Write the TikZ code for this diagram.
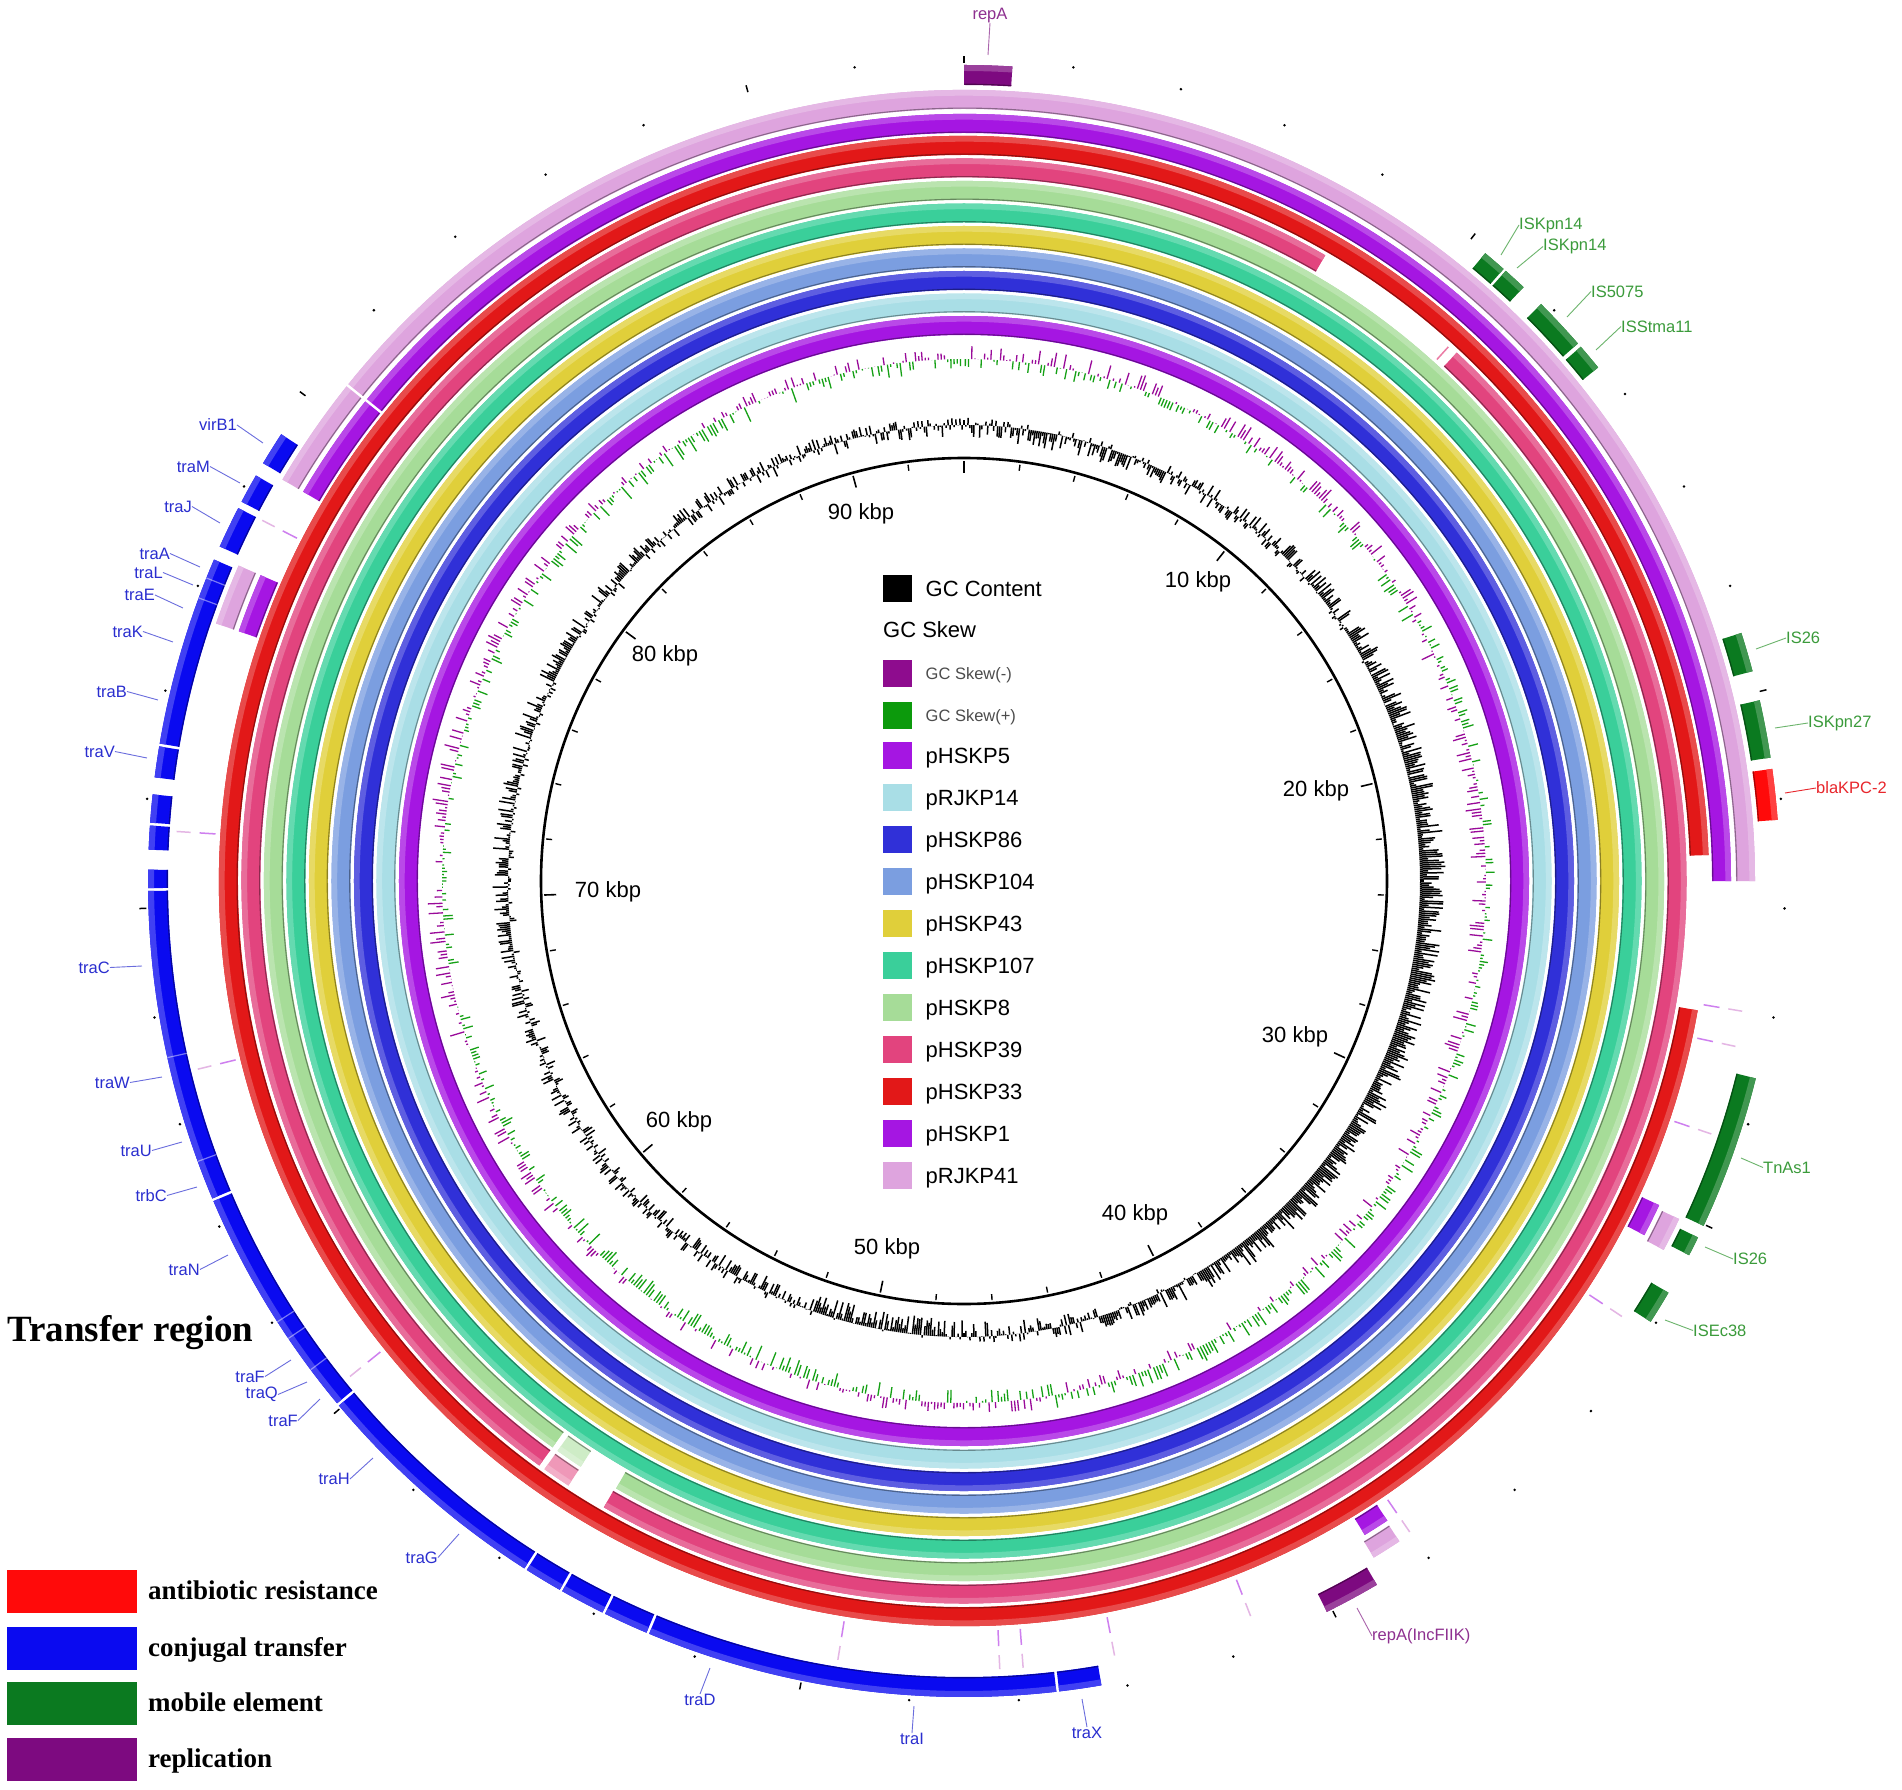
\documentclass[tikz,border=0pt]{standalone}
\usepackage{fontspec}
\setmainfont{Liberation Sans}
\newfontfamily\serifbf{Liberation Serif}
\definecolor{cP5}{HTML}{A516E2}
\definecolor{cR14}{HTML}{A9DEE6}
\definecolor{cP86}{HTML}{3030D8}
\definecolor{cP104}{HTML}{7B9EE0}
\definecolor{cP43}{HTML}{E0CF3A}
\definecolor{cP107}{HTML}{3ACF9A}
\definecolor{cP8}{HTML}{A6DC98}
\definecolor{cP39}{HTML}{E2447E}
\definecolor{cP33}{HTML}{E21818}
\definecolor{cP1}{HTML}{A516E2}
\definecolor{cR41}{HTML}{DEA4DE}
\definecolor{annR}{HTML}{FF0A0A}
\definecolor{annB}{HTML}{0A0AF0}
\definecolor{annG}{HTML}{0B7A20}
\definecolor{annP}{HTML}{7D0A80}
\definecolor{tB}{HTML}{2A2ECF}
\definecolor{tG}{HTML}{3B9B3B}
\definecolor{tR}{HTML}{E8262C}
\definecolor{tP}{HTML}{8E3090}
\definecolor{skN}{HTML}{990A99}
\definecolor{skP}{HTML}{15A015}
\definecolor{lgN}{HTML}{8E0C8E}
\definecolor{lgP}{HTML}{0C9A0C}
\newcommand\annseg[5]{%
 \pgfmathsetmacro\sgA{90-(#4)}%
 \pgfmathsetmacro\sgB{90-(#5)}%
 \pgfmathsetmacro\sgM{#3-0.3*(#3-#2)}%
 \pgfmathsetmacro\sgD{#2+0.8}%
 \fill[#1] (\sgA:#3) arc[start angle=\sgA,end angle=\sgB,radius=#3] -- (\sgB:#2) arc[start angle=\sgB,end angle=\sgA,radius=#2] -- cycle;
 \fill[#1!78!white] (\sgA:#3) arc[start angle=\sgA,end angle=\sgB,radius=#3] -- (\sgB:\sgM) arc[start angle=\sgB,end angle=\sgA,radius=\sgM] -- cycle;
 \draw[#1!62!black,line width=1.1pt] (\sgA:\sgD) arc[start angle=\sgA,end angle=\sgB,radius=\sgD];
}
\newcommand\rout[1]{\ifcase#1 565\or587.5\or610\or632.5\or655\or677.5\or700\or722.5\or745\or767\or791\fi}
\newcommand\ring[4]{\pgfmathsetmacro\rgO{\rout{#2}}\pgfmathsetmacro\rgI{\rgO-19}\annseg{#1}{\rgI}{\rgO}{#3}{#4}}
\newcommand\ann[3]{\annseg{#1}{796}{816}{#2}{#3}}
\newcommand\wgap[3]{\pgfmathsetmacro\sgA{90-(#3)}\draw[white,line width=2.4pt] (\sgA:#1) -- (\sgA:#2);}
\newcommand\fline[3]{\pgfmathsetmacro\sgA{90-(#3)}\draw[white,opacity=0.45,line width=1.2pt] (\sgA:#1) -- (\sgA:#2);}
\newcommand\frag[1]{\pgfmathsetmacro\sgA{90-(#1)}%
 \draw[cP1!55!white,line width=1.5pt] (\sgA:750) -- (\sgA:766);
 \draw[cR41!80!white,line width=1.5pt] (\sgA:775) -- (\sgA:789);}
\tikzset{
 lbl/.style={font=\fontsize{16.5}{18}\selectfont, inner sep=0pt},
 bl/.style={lbl,text=tB}, gl/.style={lbl,text=tG}, rl/.style={lbl,text=tR}, pl/.style={lbl,text=tP},
 leadB/.style={tB!70!white,line width=0.9pt},
 leadG/.style={tG!75!white,line width=0.9pt},
 leadR/.style={tR,line width=0.9pt},
 leadP/.style={tP!75!white,line width=0.9pt},
 kbp/.style={font=\fontsize{22}{26}\selectfont, inner sep=0pt},
 legsw/.style={minimum width=29pt,minimum height=27pt,inner sep=0pt},
 legtx/.style={font=\fontsize{22}{26}\selectfont, inner sep=0pt, anchor=base west},
 legsm/.style={font=\fontsize{16.5}{18}\selectfont, inner sep=0pt, anchor=base west, text=black!70},
 bigbox/.style={minimum width=130pt,minimum height=43pt,inner sep=0pt},
 bigtx/.style={font=\serifbf\bfseries\fontsize{27}{30}\selectfont, inner sep=0pt, anchor=base west}
}
\begin{document}
\begin{tikzpicture}[x=1pt,y=1pt]
\useasboundingbox (-964,-908) rectangle (938,881);
\fill[white] (-964,-908) rectangle (938,881);
% ---------------- GC content ----------------
\pgfmathsetseed{20231}
\foreach \a in {0,0.25,...,359.75}{%
 \pgfmathsetmacro\gth{90-\a}%
 \pgfmathsetmacro\gb{15*exp(-((\a-95)/45)^2)+9*exp(-((\a-140)/15)^2)-9*exp(-((\a-190)/18)^2)+6*exp(-((\a-285)/30)^2)-6*exp(-((\a-12)/18)^2)-6*exp(-((\a-372)/18)^2)}%
 \pgfmathsetmacro\gr{456+\gb+22*(rnd-0.5)}%
 \draw[black,line width=1.5pt] (\gth:456) -- (\gth:\gr);
}
% ---------------- GC skew ----------------
\foreach \a in {0.15,0.5,...,359.9}{%
 \pgfmathsetmacro\gth{90-\a}%
 \pgfmathsetmacro\gv{3*sin(3*\a)+26*(rnd-0.5)}%
 \pgfmathtruncatemacro\fl{and(\a>60,\a<170)}%
 \pgfmathsetmacro\gp{522+max(\gv,0)}%
 \pgfmathsetmacro\gn{522+min(\gv,0)}%
 \ifnum\fl=1
  \draw[skP,line width=1.3pt] (\gth:522) -- (\gth:\gp);
  \draw[skN,line width=1.3pt] (\gth:522) -- (\gth:\gn);
 \else
  \draw[skN,line width=1.3pt] (\gth:522) -- (\gth:\gp);
  \draw[skP,line width=1.3pt] (\gth:522) -- (\gth:\gn);
 \fi
}
% ---------------- inner circle and ticks ----------------
\draw[line width=2.6pt] (0,0) circle[radius=423];
\foreach \i in {0,...,46}{%
 \pgfmathsetmacro\gth{90-\i*7.6596}%
 \pgfmathtruncatemacro\mj{mod(\i,5)}%
 \ifnum\mj=0
  \draw[line width=1.6pt] (\gth:420) -- (\gth:408);
  \draw[line width=1.5pt] (\gth:818) -- (\gth:825);
 \else
  \draw[line width=1.4pt] (\gth:420) -- (\gth:414);
  \fill (\gth:821) circle[radius=1.4];
 \fi
}
% ---------------- comparison rings ----------------
\ring{cP5}{0}{0}{360}
\ring{cR14}{1}{0}{360}
\ring{cP86}{2}{0}{360}
\ring{cP104}{3}{0}{360}
\ring{cP43}{4}{0}{360}
\ring{cP107}{5}{0}{360}
\ring{cP8}{6}{216}{569.8}
\ring{cP8!55!white}{6}{213.2}{215.5}
\ring{cP39}{7}{43}{209.9}
\ring{cP39!55!white}{7}{213.2}{215.5}
\ring{cP39}{7}{216}{390}
\pgfmathsetmacro\sgA{90-42.2}\draw[cP39!70!white,line width=1.5pt] (\sgA:704) -- (\sgA:721);
\ring{cP33}{8}{100}{448}
\ring{cP1}{9}{300.5}{450}
\ring{cP1}{9}{115}{117.5}
\ring{cP1}{9}{146.5}{148.5}
\ring{cP1}{9}{289}{293.5}
\ring{cR41}{10}{300.5}{450}
\ring{cR41}{10}{115.3}{117.8}
\ring{cR41}{10}{146.6}{148.8}
\ring{cR41}{10}{289}{293.5}
\wgap{746}{794}{308.8}
\foreach \t in {99.5,102.1,108.7,123.5,145.6,158.7,169,175.7,177.4,189.2,231.1,256.2,273.6,297.2}{\frag{\t}}
% ---------------- annotation ring ----------------
\ann{annP}{0}{3.4}
\ann{annG}{39.7}{41.4}
\ann{annG}{41.6}{43.3}
\ann{annG}{45}{48.8}
\ann{annG}{49.1}{51}
\ann{annG}{72.3}{75.1}
\ann{annG}{77.2}{81.3}
\ann{annR}{82.1}{85.7}
\ann{annG}{104}{115}
\ann{annG}{115.9}{117.3}
\ann{annG}{120.3}{122.7}
\ann{annP}{149.6}{153.6}
\foreach \s/\e in {170.3/173.3,173.5/202.7,202.9/206.1,206.3/209.5,209.7/212.4,212.6/230.0,230.2/246.9,247.1/269.3,269.5/270.8,272.2/273.9,274.1/276.1,277.3/279.5,279.7/293.2,294.2/297.2,297.7/299.8,300.8/303.2}{\ann{annB}{\s}{\e}}
\foreach \t in {233.2,235.9,237.3,249.9,257.5,290.3,291.8}{\fline{796}{816}{\t}}
% ---------------- kbp labels ----------------
\node[kbp] (k90) at (-103,367) {90 kbp};
\node[kbp] (k10) at (234,299) {10 kbp};
\node[kbp] (k20) at (352,90) {20 kbp};
\node[kbp] (k30) at (331,-156) {30 kbp};
\node[kbp] (k40) at (171,-334) {40 kbp};
\node[kbp] (k50) at (-77,-368) {50 kbp};
\node[kbp] (k60) at (-285,-241) {60 kbp};
\node[kbp] (k70) at (-356,-11) {70 kbp};
\node[kbp] (k80) at (-299,225) {80 kbp};
% ---------------- centre legend ----------------
\node[legsw,fill=black] (s0) at (-66.5,292.7) {};
\node[legtx] (t0) at (-38.5,284.7) {GC Content};
\node[legtx] (t00) at (-81,243.5) {GC Skew};
\node[legsw,fill=lgN] (s1) at (-66.5,207.8) {};
\node[legsm] (t1) at (-38.5,201.8) {GC Skew(-)};
\node[legsw,fill=lgP] (s2) at (-66.5,165.3) {};
\node[legsm] (t2) at (-38.5,159.3) {GC Skew(+)};
\foreach \n/\c/\y in {pHSKP5/cP5/125.3,pRJKP14/cR14/83.3,pHSKP86/cP86/41.4,pHSKP104/cP104/-0.6,pHSKP43/cP43/-42.6,pHSKP107/cP107/-84.5,pHSKP8/cP8/-126.5,pHSKP39/cP39/-168.5,pHSKP33/cP33/-210.5,pHSKP1/cP1/-252.4,pRJKP41/cR41/-294.4}{%
 \node[legsw,fill=\c] (sw\n) at (-66.5,\y) {};
 \node[legtx] (tx\n) at (-38.5,\y-8) {\n};
}
% ---------------- gene labels ----------------
\node[pl,anchor=south] (LrepA) at (26,858) {repA};
\coordinate (PrepA) at (24,826);
\draw[leadP] (LrepA.south) -- (PrepA);
\node[gl,anchor=west] (LISa) at (555,656) {ISKpn14};
\coordinate (PISa) at (537,626); \draw[leadG] (PISa) -- (LISa.west);
\node[gl,anchor=west] (LISb) at (579,634.5) {ISKpn14};
\coordinate (PISb) at (553,613); \draw[leadG] (PISb) -- (LISb.west);
\node[gl,anchor=west] (LIS5) at (627,589.5) {IS5075};
\coordinate (PIS5) at (603,564); \draw[leadG] (PIS5) -- (LIS5.west);
\node[gl,anchor=west] (LISs) at (657,554.5) {ISStma11};
\coordinate (PISs) at (632,531); \draw[leadG] (PISs) -- (LISs.west);
\node[gl,anchor=west] (LIS26a) at (822,243) {IS26};
\coordinate (PIS26a) at (792,232); \draw[leadG] (PIS26a) -- (LIS26a.west);
\node[gl,anchor=west] (LIS27) at (844,158) {ISKpn27};
\coordinate (PIS27) at (811,153); \draw[leadG] (PIS27) -- (LIS27.west);
\node[rl,anchor=west] (Lbla) at (852,93) {blaKPC-2};
\coordinate (Pbla) at (821,88); \draw[leadR] (Pbla) -- (Lbla.west);
\node[gl,anchor=west] (LTn) at (799,-286.5) {TnAs1};
\coordinate (PTn) at (777,-277); \draw[leadG] (PTn) -- (LTn.west);
\node[gl,anchor=west] (LIS26b) at (769,-378) {IS26};
\coordinate (PIS26b) at (741,-366); \draw[leadG] (PIS26b) -- (LIS26b.west);
\node[gl,anchor=west] (LISE) at (729,-449.5) {ISEc38};
\coordinate (PISE) at (701,-439); \draw[leadG] (PISE) -- (LISE.west);
\node[pl,anchor=west] (LrepB) at (408,-755) {repA(IncFIIK)};
\coordinate (PrepB) at (393,-727); \draw[leadP] (PrepB) -- (LrepB.west);
\node[bl,anchor=north] (LtraD) at (-264,-813) {traD};
\coordinate (PtraD) at (-254,-787); \draw[leadB] (PtraD) -- (LtraD.north);
\node[bl,anchor=north] (LtraI) at (-52,-852) {traI};
\coordinate (PtraI) at (-50,-825); \draw[leadB] (PtraI) -- (LtraI.north);
\node[bl,anchor=north] (LtraX) at (123,-846) {traX};
\coordinate (PtraX) at (118,-818); \draw[leadB] (PtraX) -- (LtraX.north);
\foreach \n/\t/\x/\y/\px/\py in {
 Fa/traF/-699/-495.5/-673/-479,
 Q/traQ/-686/-513.5/-657/-501,
 Fb/traF/-666/-539.5/-644/-518,
 H/traH/-614/-598/-591/-577,
 G/traG/-526/-676.5/-505/-653,
 N/traN/-764/-388.5/-736/-374,
 bC/trbC/-797/-314.5/-767/-306,
 U/traU/-812/-269.5/-782/-261,
 W/traW/-834/-201.5/-802/-196,
 C/traC/-854/-86.5/-822/-85,
 vB/virB1/-727/456/-701/438,
 M/traM/-754/414.5/-724/398,
 J/traJ/-772/374.5/-744/358,
 A/traA/-794/327.5/-764/314,
 L/traL/-801/308.5/-771/296,
 E/traE/-809/286/-781/273,
 K/traK/-821/249.5/-791/239,
 B/traB/-837/189.5/-806/181,
 V/traV/-849/129.5/-817/123}{%
 \node[bl,anchor=east] (Lt\n) at (\x,\y) {\t};
 \coordinate (Pt\n) at (\px,\py);
 \draw[leadB] (Lt\n.east) -- (Pt\n);
}
% ---------------- title and category legend ----------------
\node[font=\serifbf\bfseries\fontsize{37}{40}\selectfont, inner sep=0pt, anchor=base west] (title) at (-957,-460) {Transfer region};
\node[bigbox,fill=annR] (b1) at (-892,-710.5) {};
\node[bigtx] (bt1) at (-816,-718.5) {antibiotic resistance};
\node[bigbox,fill=annB] (b2) at (-892,-767) {};
\node[bigtx] (bt2) at (-816,-775) {conjugal transfer};
\node[bigbox,fill=annG] (b3) at (-892,-822) {};
\node[bigtx] (bt3) at (-816,-830) {mobile element};
\node[bigbox,fill=annP] (b4) at (-892,-878.5) {};
\node[bigtx] (bt4) at (-816,-886.5) {replication};
\end{tikzpicture}
\end{document}
